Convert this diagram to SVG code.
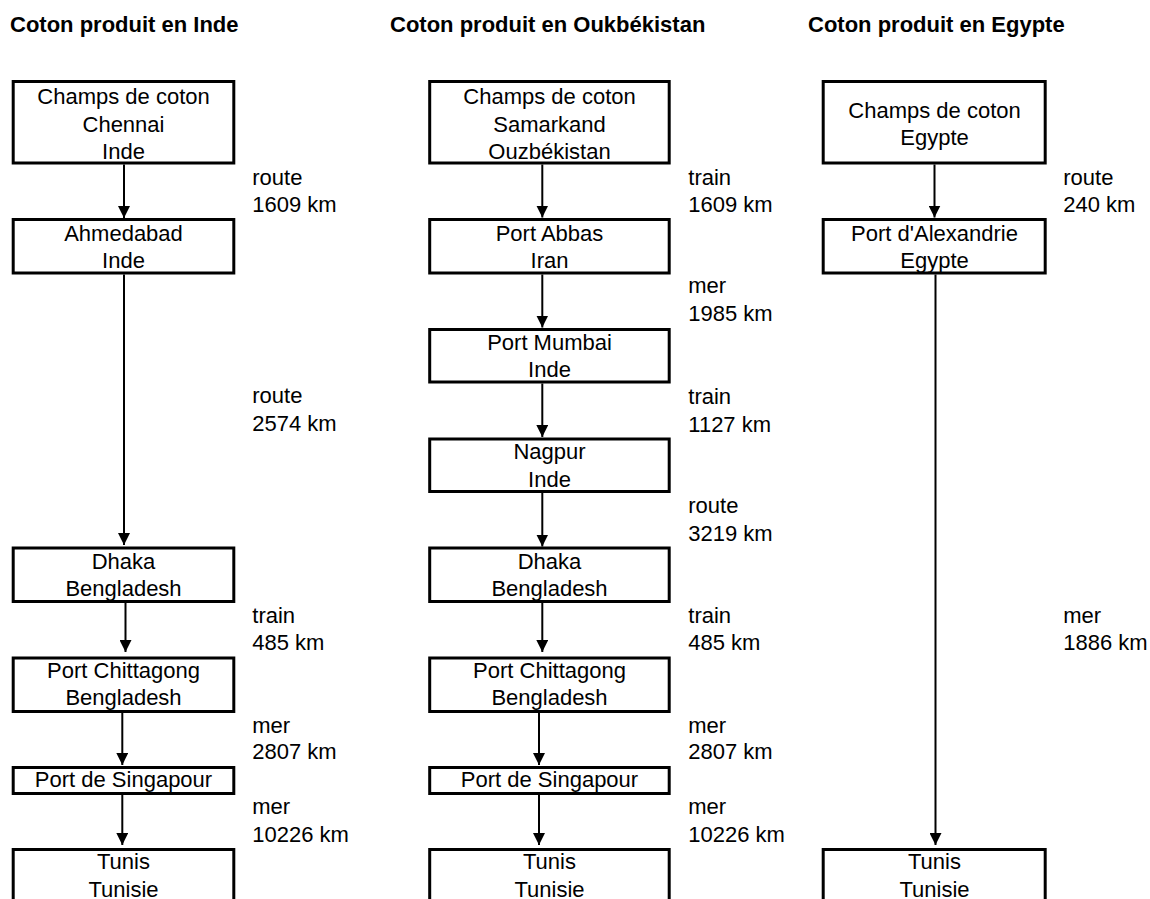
<svg xmlns="http://www.w3.org/2000/svg" width="1150" height="899" viewBox="0 0 1150 899">
<style>
text{font-family:"Liberation Sans",Arial,sans-serif;font-size:22px;fill:#000}
.t{font-weight:bold}
.c{text-anchor:middle}
.box{fill:#fff;stroke:#000;stroke-width:3}
.edge{stroke:#000;stroke-width:2;fill:none;marker-end:url(#ah)}
</style>
<defs>
<marker id="ah" markerUnits="userSpaceOnUse" markerWidth="12" markerHeight="12" refX="12" refY="6" orient="auto">
<path d="M0,0 L12,6 L0,12 z" fill="#000"/>
</marker>
</defs>
<rect width="1150" height="899" fill="#fff"/>
<g id="titles">
<text class="t" x="10" y="31.5">Coton produit en Inde</text>
<text class="t" x="390" y="31.5">Coton produit en Oukbékistan</text>
<text class="t" x="808" y="31.5">Coton produit en Egypte</text>
</g>
<g id="connectors">
<line class="edge" x1="124" y1="164.5" x2="124" y2="218"/>
<line class="edge" x1="124" y1="274.5" x2="124" y2="545"/>
<line class="edge" x1="125.5" y1="603" x2="125.5" y2="652"/>
<line class="edge" x1="122.3" y1="713" x2="122.3" y2="765"/>
<line class="edge" x1="122.3" y1="795" x2="122.3" y2="845"/>
<line class="edge" x1="542.3" y1="164.5" x2="542.3" y2="217.5"/>
<line class="edge" x1="542.3" y1="274.5" x2="542.3" y2="327.5"/>
<line class="edge" x1="542.3" y1="383.5" x2="542.3" y2="437"/>
<line class="edge" x1="542.3" y1="493" x2="542.3" y2="546.5"/>
<line class="edge" x1="542.3" y1="603" x2="542.3" y2="652"/>
<line class="edge" x1="539" y1="713" x2="539" y2="765"/>
<line class="edge" x1="539" y1="795" x2="539" y2="845"/>
<line class="edge" x1="934.5" y1="164.5" x2="934.5" y2="217.5"/>
<line class="edge" x1="935.5" y1="274.5" x2="935.5" y2="845"/>
</g>
<g id="edge-labels">
<text x="252.3" y="185">route</text><text x="252.3" y="211.7">1609 km</text>
<text x="252.3" y="403.3">route</text><text x="252.3" y="431">2574 km</text>
<text x="252.3" y="622.7">train</text><text x="252.3" y="650">485 km</text>
<text x="252.3" y="732.7">mer</text><text x="252.3" y="759">2807 km</text>
<text x="252.3" y="814">mer</text><text x="252.3" y="842">10226 km</text>
<text x="688.3" y="185">train</text><text x="688.3" y="211.7">1609 km</text>
<text x="688.3" y="293.3">mer</text><text x="688.3" y="321">1985 km</text>
<text x="688.3" y="404">train</text><text x="688.3" y="431.7">1127 km</text>
<text x="688.3" y="513.3">route</text><text x="688.3" y="541">3219 km</text>
<text x="688.3" y="622.7">train</text><text x="688.3" y="650">485 km</text>
<text x="688.3" y="732.7">mer</text><text x="688.3" y="759">2807 km</text>
<text x="688.3" y="814">mer</text><text x="688.3" y="842">10226 km</text>
<text x="1063.3" y="185">route</text><text x="1063.3" y="211.7">240 km</text>
<text x="1063.3" y="622.7">mer</text><text x="1063.3" y="650">1886 km</text>
</g>
<g id="inde-champs"><rect class="box" x="13.2" y="81.5" width="220.6" height="81.5"/>
<text class="c" x="123.5" y="104">Champs de coton</text><text class="c" x="123.5" y="131.5">Chennai</text><text class="c" x="123.5" y="158.5">Inde</text></g>
<g id="inde-ahmedabad"><rect class="box" x="13.2" y="219.5" width="220.6" height="53.5"/>
<text class="c" x="123.5" y="240.7">Ahmedabad</text><text class="c" x="123.5" y="267.7">Inde</text></g>
<g id="inde-dhaka"><rect class="box" x="13.2" y="548" width="220.6" height="53.5"/>
<text class="c" x="123.5" y="568.5">Dhaka</text><text class="c" x="123.5" y="595.5">Bengladesh</text></g>
<g id="inde-chittagong"><rect class="box" x="13.2" y="658" width="220.6" height="53.5"/>
<text class="c" x="123.5" y="678">Port Chittagong</text><text class="c" x="123.5" y="705">Bengladesh</text></g>
<g id="inde-singapour"><rect class="box" x="13.2" y="767.5" width="220.6" height="26"/>
<text class="c" x="123.5" y="787">Port de Singapour</text></g>
<g id="inde-tunis"><rect class="box" x="13.2" y="849.5" width="220.6" height="60"/>
<text class="c" x="123.5" y="869">Tunis</text><text class="c" x="123.5" y="897">Tunisie</text></g>

<g id="ouz-champs"><rect class="box" x="429.7" y="81.5" width="239.5" height="81.5"/>
<text class="c" x="549.5" y="104">Champs de coton</text><text class="c" x="549.5" y="131.5">Samarkand</text><text class="c" x="549.5" y="158.5">Ouzbékistan</text></g>
<g id="ouz-abbas"><rect class="box" x="429.7" y="219.5" width="239.5" height="53.5"/>
<text class="c" x="549.5" y="240.7">Port Abbas</text><text class="c" x="549.5" y="267.7">Iran</text></g>
<g id="ouz-mumbai"><rect class="box" x="429.7" y="329.5" width="239.5" height="52.5"/>
<text class="c" x="549.5" y="350">Port Mumbai</text><text class="c" x="549.5" y="376.7">Inde</text></g>
<g id="ouz-nagpur"><rect class="box" x="429.7" y="439" width="239.5" height="52.5"/>
<text class="c" x="549.5" y="459.3">Nagpur</text><text class="c" x="549.5" y="486.7">Inde</text></g>
<g id="ouz-dhaka"><rect class="box" x="429.7" y="548" width="239.5" height="53.5"/>
<text class="c" x="549.5" y="568.5">Dhaka</text><text class="c" x="549.5" y="595.5">Bengladesh</text></g>
<g id="ouz-chittagong"><rect class="box" x="429.7" y="658" width="239.5" height="53.5"/>
<text class="c" x="549.5" y="678">Port Chittagong</text><text class="c" x="549.5" y="705">Bengladesh</text></g>
<g id="ouz-singapour"><rect class="box" x="429.7" y="767.5" width="239.5" height="26"/>
<text class="c" x="549.5" y="787">Port de Singapour</text></g>
<g id="ouz-tunis"><rect class="box" x="429.7" y="849.5" width="239.5" height="60"/>
<text class="c" x="549.5" y="869">Tunis</text><text class="c" x="549.5" y="897">Tunisie</text></g>

<g id="egy-champs"><rect class="box" x="823.2" y="81.5" width="222" height="81.5"/>
<text class="c" x="934.5" y="118.3">Champs de coton</text><text class="c" x="934.5" y="144.5">Egypte</text></g>
<g id="egy-alexandrie"><rect class="box" x="823.2" y="219.5" width="222" height="53.5"/>
<text class="c" x="934.5" y="240.7">Port d'Alexandrie</text><text class="c" x="934.5" y="267.7">Egypte</text></g>
<g id="egy-tunis"><rect class="box" x="823.2" y="849.5" width="222" height="60"/>
<text class="c" x="934.5" y="869">Tunis</text><text class="c" x="934.5" y="897">Tunisie</text></g>
</svg>
